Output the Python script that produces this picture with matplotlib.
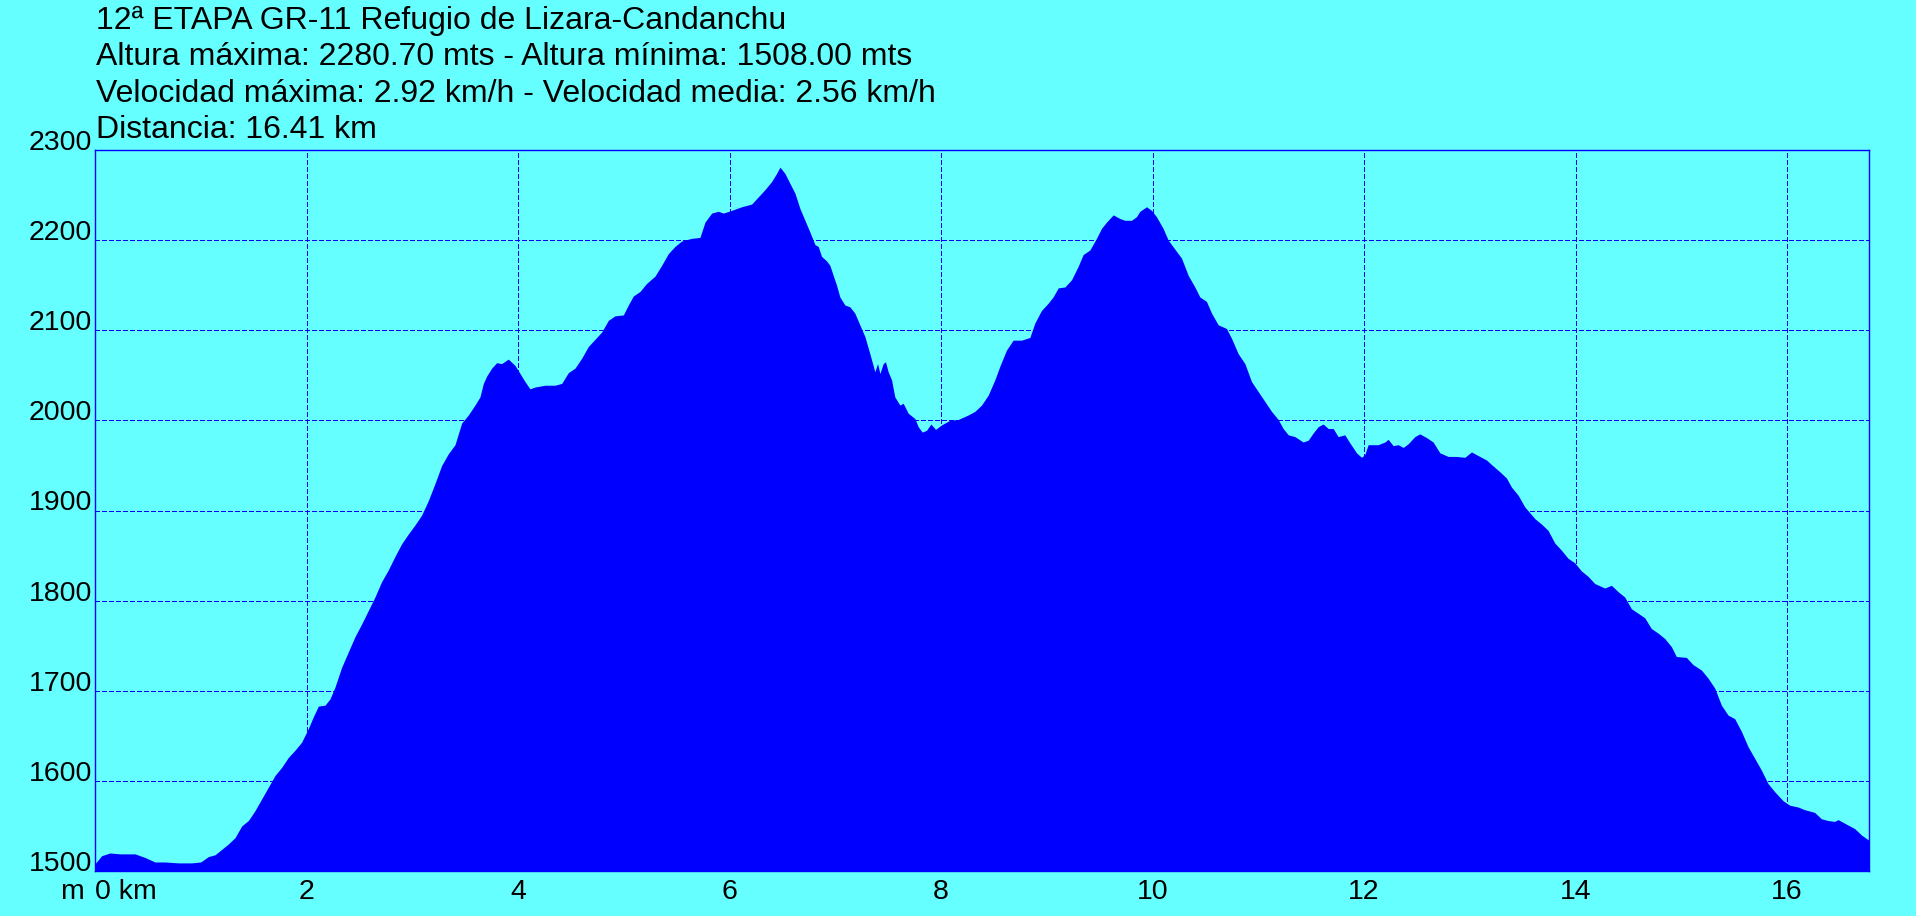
import matplotlib
matplotlib.use("Agg")
import matplotlib.pyplot as plt

# elevation profile (km, metres)
km = [
    0.000, 0.063, 0.142, 0.236, 0.378, 0.473, 0.567, 0.662, 0.788, 0.914,
    0.999, 1.072, 1.135, 1.198, 1.261, 1.324, 1.387, 1.450, 1.513, 1.576,
    1.639, 1.702, 1.765, 1.828, 1.891, 1.954, 2.017, 2.064, 2.112, 2.175,
    2.222, 2.269, 2.332, 2.395, 2.458, 2.521, 2.584, 2.647, 2.710, 2.773,
    2.836, 2.899, 2.963, 3.026, 3.089, 3.152, 3.215, 3.278, 3.341, 3.404,
    3.467, 3.530, 3.593, 3.640, 3.672, 3.703, 3.751, 3.798, 3.845, 3.908,
    3.971, 4.019, 4.066, 4.113, 4.160, 4.255, 4.350, 4.413, 4.476, 4.539,
    4.602, 4.665, 4.728, 4.791, 4.854, 4.917, 4.996, 5.043, 5.090, 5.153,
    5.216, 5.295, 5.358, 5.421, 5.484, 5.547, 5.642, 5.720, 5.768, 5.831,
    5.894, 5.941, 6.020, 6.114, 6.209, 6.272, 6.335, 6.398, 6.445, 6.477,
    6.524, 6.571, 6.619, 6.666, 6.713, 6.760, 6.808,
    6.839, 6.870, 6.917, 6.949, 6.980, 7.012, 7.043, 7.091, 7.138, 7.185,
    7.232, 7.280, 7.327, 7.374, 7.400, 7.422, 7.453, 7.475, 7.500, 7.532,
    7.563, 7.611, 7.642, 7.689, 7.753, 7.784, 7.822, 7.863, 7.904, 7.948,
    8.005, 8.083, 8.162, 8.257, 8.320, 8.383, 8.446, 8.509, 8.556, 8.619,
    8.682, 8.761, 8.840, 8.887, 8.950, 9.013, 9.060, 9.108, 9.171, 9.234,
    9.297, 9.344, 9.407, 9.470, 9.517, 9.565, 9.628, 9.691, 9.738, 9.801,
    9.848, 9.880, 9.943, 9.990, 10.037, 10.100, 10.148, 10.211,
    10.274, 10.337, 10.400, 10.447, 10.510, 10.558, 10.621, 10.699, 10.747, 10.810,
    10.873, 10.936, 10.999, 11.062, 11.125, 11.188, 11.235, 11.283, 11.346, 11.424,
    11.472, 11.519, 11.566, 11.613, 11.661, 11.708, 11.755, 11.818, 11.866, 11.929,
    11.976, 12.007, 12.039, 12.086, 12.133, 12.197, 12.228, 12.275, 12.323, 12.370,
    12.417, 12.480, 12.527, 12.590, 12.653, 12.717, 12.795, 12.874, 12.953, 13.016,
    13.063, 13.158, 13.205, 13.284, 13.347, 13.394, 13.457, 13.520, 13.615,
    13.677, 13.740, 13.803, 13.866, 13.929, 13.992, 14.055, 14.118, 14.181, 14.276,
    14.339, 14.402, 14.465, 14.528, 14.591, 14.654, 14.717, 14.780, 14.843, 14.906,
    14.953, 15.048, 15.111, 15.190, 15.253, 15.316, 15.379, 15.442, 15.505, 15.568,
    15.631, 15.694, 15.757, 15.820, 15.883, 15.962, 16.025, 16.104, 16.167, 16.261,
    16.324, 16.387, 16.450, 16.482, 16.561, 16.640, 16.703, 16.775,
]
altura = [
    1508, 1517, 1520, 1519, 1519, 1515, 1510, 1510, 1509, 1509,
    1510, 1516, 1518, 1524, 1530, 1537, 1550, 1556, 1567, 1580,
    1593, 1606, 1615, 1626, 1634, 1643, 1658, 1671, 1683, 1684,
    1691, 1704, 1726, 1743, 1760, 1774, 1789, 1804, 1821, 1834,
    1849, 1863, 1874, 1884, 1895, 1911, 1930, 1950, 1963, 1973,
    1997, 2006, 2017, 2026, 2041, 2049, 2058, 2064, 2063, 2068,
    2061, 2052, 2043, 2035, 2037, 2039, 2039, 2041, 2053, 2058,
    2069, 2082, 2090, 2098, 2111, 2116, 2117, 2128, 2138, 2143,
    2152, 2160, 2172, 2185, 2193, 2199, 2202, 2203, 2220, 2230,
    2232, 2230, 2233, 2237, 2240, 2248, 2256, 2265, 2274, 2281,
    2274, 2263, 2252, 2235, 2222, 2209, 2195,
    2193, 2182, 2177, 2172, 2161, 2150, 2137, 2128, 2126, 2119,
    2106, 2093, 2074, 2054, 2063, 2052, 2063, 2065, 2054, 2045,
    2026, 2017, 2019, 2008, 2002, 1993, 1987, 1989, 1996, 1990,
    1995, 2000, 2001, 2006, 2010, 2017, 2028, 2045, 2060, 2078,
    2089, 2089, 2092, 2108, 2122, 2130, 2137, 2147, 2148, 2156,
    2171, 2184, 2189, 2202, 2213, 2220, 2228, 2224, 2222, 2222,
    2226, 2232, 2237, 2233, 2226, 2213, 2200, 2190,
    2180, 2161, 2148, 2137, 2132, 2119, 2106, 2102, 2091, 2074,
    2063, 2043, 2032, 2021, 2010, 2001, 1991, 1984, 1982, 1976,
    1978, 1986, 1993, 1996, 1991, 1991, 1982, 1984, 1975, 1964,
    1959, 1962, 1973, 1973, 1973, 1976, 1979, 1972, 1973, 1970,
    1974, 1982, 1985, 1981, 1976, 1964, 1960, 1960, 1959, 1965,
    1962, 1956, 1951, 1943, 1936, 1926, 1917, 1904, 1891,
    1885, 1878, 1864, 1856, 1847, 1842, 1833, 1827, 1819, 1814,
    1817, 1810, 1804, 1791, 1786, 1781, 1769, 1764, 1758, 1749,
    1738, 1737, 1729, 1723, 1714, 1703, 1684, 1673, 1669, 1655,
    1638, 1625, 1612, 1597, 1588, 1578, 1573, 1571, 1568, 1565,
    1558, 1556, 1555, 1557, 1552, 1547, 1540, 1534,
]

x_ticks = [0, 2, 4, 6, 8, 10, 12, 14, 16]
x_labels = ["0 km", "2", "4", "6", "8", "10", "12", "14", "16"]
y_ticks = [1500, 1600, 1700, 1800, 1900, 2000, 2100, 2200, 2300]

header = [
    "12ª ETAPA GR-11 Refugio de Lizara-Candanchu",
    "Altura máxima: 2280.70 mts - Altura mínima: 1508.00 mts",
    "Velocidad máxima: 2.92 km/h - Velocidad media: 2.56 km/h",
    "Distancia: 16.41 km",
]
header_base = [29.5, 65, 101.5, 138]   # baselines, px from top

BG = "#66ffff"
BLUE = "#0000ff"
W, H = 1916, 916

plt.rcParams["font.family"] = ["Liberation Sans", "DejaVu Sans"]

fig = plt.figure(figsize=(W / 100, H / 100), dpi=100, facecolor=BG)
ax = fig.add_axes([95 / W, (H - 871) / H, (1869 - 95) / W, (871 - 150) / H])
ax.set_facecolor(BG)

ax.fill_between(km, altura, 1500, color=BLUE, lw=0, zorder=2)

ax.set_xlim(0, 16.775)
ax.set_ylim(1500, 2300)
ax.set_xticks(x_ticks)
ax.set_xticklabels(x_labels)
ax.set_yticks(y_ticks)
ax.tick_params(length=0, labelsize=20.5, colors="black")
ax.tick_params(axis="y", pad=2.0)
ax.tick_params(axis="x", pad=20.2)
for lab in ax.get_yticklabels():
    lab.set_va("baseline")
for lab in ax.get_xticklabels():
    lab.set_va("baseline")
ax.get_xticklabels()[0].set_ha("left")

ax.set_axisbelow(True)
ax.grid(True, color=BLUE, lw=0.75, linestyle=(0, (4, 2)), antialiased=False)
for sp in ax.spines.values():
    sp.set_color(BLUE)
    sp.set_linewidth(1.0)
    sp.set_zorder(3)

fig.text(60 / W, 1 - 899 / H, "m", fontsize=20.5, va="baseline", ha="left")

for line, yb in zip(header, header_base):
    fig.text(96 / W, 1 - yb / H, line, fontsize=23,
             va="baseline", ha="left")

fig.savefig("out.png", dpi=100, facecolor=BG)
